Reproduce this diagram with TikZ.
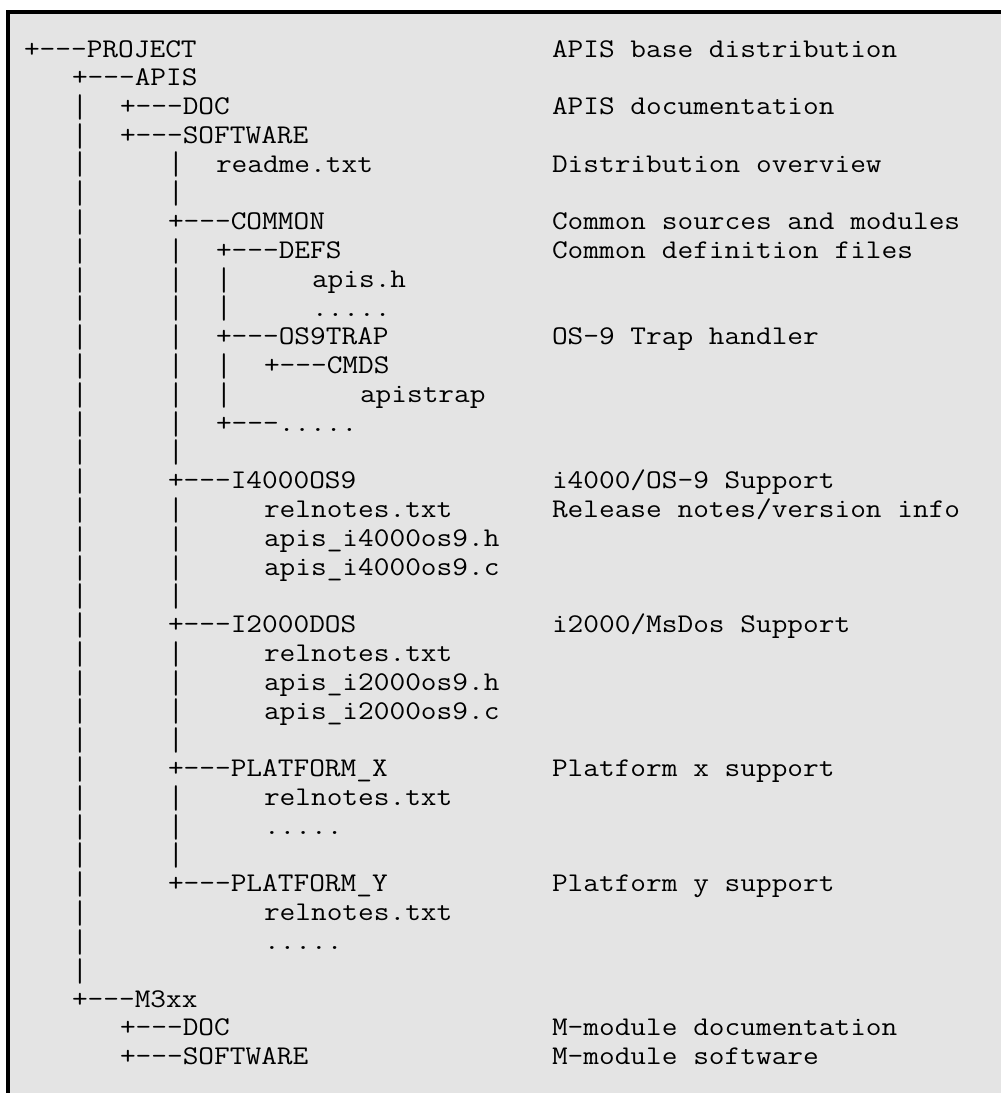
\documentclass[tikz,border=0pt]{standalone}
\usepackage{fontspec}
\usepackage{graphicx}
\definecolor{panel}{HTML}{E4E4E4}
\tikzset{
  txt/.style={anchor=base west, inner sep=0pt, outer sep=0pt,
    font=\ttfamily\fontsize{27}{29}\selectfont, text=black}
}
\newsavebox\pipebox
\newcommand\pipechar{\sbox\pipebox{|}%
  \raisebox{-5.5pt}{\resizebox{1.129\wd\pipebox}{25.5pt}{\raisebox{\dp\pipebox}{\usebox\pipebox}}}}
\newcommand\sx[1]{\scalebox{1.129}[1]{#1}}
\newcommand\tx[4]{\node[txt] (#1) at ({24+16*(#2)},{57+28.79*((#3)-1)}) {\sx{#4}};}
\newcommand\pp[2]{\node[txt] (p#1x#2) at ({24+16*(#2)},{57+28.79*((#1)-1)}) {\pipechar};}
\begin{document}
\begin{tikzpicture}[x=1pt,y=-1pt]
\useasboundingbox (0,0) rectangle (1001,1093);
\fill[white] (0,0) rectangle (1001,1093);
\fill[panel] (10,14) rectangle (1001,1093);
\fill[black] (6,10) rectangle (1001,14);
\fill[black] (6,10) rectangle (10,1093);
% line 1-2
\tx{project}{0}{1}{+---PROJECT}
\tx{dproject}{33}{1}{APIS base distribution}
\tx{apis}{3}{2}{+---APIS}
% 3-4
\pp{3}{3}\tx{doc}{6}{3}{+---DOC}\tx{ddoc}{33}{3}{APIS documentation}
\pp{4}{3}\tx{software}{6}{4}{+---SOFTWARE}
% 5-6
\pp{5}{3}\pp{5}{9}\tx{readme}{12}{5}{readme.txt}\tx{dreadme}{33}{5}{Distribution overview}
\pp{6}{3}\pp{6}{9}
% 7-15
\pp{7}{3}\tx{common}{9}{7}{+---COMMON}\tx{dcommon}{33}{7}{Common sources and modules}
\pp{8}{3}\pp{8}{9}\tx{defs}{12}{8}{+---DEFS}\tx{ddefs}{33}{8}{Common definition files}
\pp{9}{3}\pp{9}{9}\pp{9}{12}\tx{apish}{18}{9}{apis.h}
\pp{10}{3}\pp{10}{9}\pp{10}{12}\tx{defsmore}{18}{10}{.....}
\pp{11}{3}\pp{11}{9}\tx{os9trap}{12}{11}{+---OS9TRAP}\tx{dos9trap}{33}{11}{OS-9 Trap handler}
\pp{12}{3}\pp{12}{9}\pp{12}{12}\tx{cmds}{15}{12}{+---CMDS}
\pp{13}{3}\pp{13}{9}\pp{13}{12}\tx{apistrap}{21}{13}{apistrap}
\pp{14}{3}\pp{14}{9}\tx{commonmore}{12}{14}{+---.....}
\pp{15}{3}\pp{15}{9}
% 16-20
\pp{16}{3}\tx{ifour}{9}{16}{+---I4000OS9}\tx{difour}{33}{16}{i4000/OS-9 Support}
\pp{17}{3}\pp{17}{9}\tx{relfour}{15}{17}{relnotes.txt}\tx{drelfour}{33}{17}{Release notes/version info}
\pp{18}{3}\pp{18}{9}\tx{hfour}{15}{18}{apis\_i4000os9.h}
\pp{19}{3}\pp{19}{9}\tx{cfour}{15}{19}{apis\_i4000os9.c}
\pp{20}{3}\pp{20}{9}
% 21-25
\pp{21}{3}\tx{itwo}{9}{21}{+---I2000DOS}\tx{ditwo}{33}{21}{i2000/MsDos Support}
\pp{22}{3}\pp{22}{9}\tx{reltwo}{15}{22}{relnotes.txt}
\pp{23}{3}\pp{23}{9}\tx{htwo}{15}{23}{apis\_i2000os9.h}
\pp{24}{3}\pp{24}{9}\tx{ctwo}{15}{24}{apis\_i2000os9.c}
\pp{25}{3}\pp{25}{9}
% 26-29
\pp{26}{3}\tx{platx}{9}{26}{+—--PLATFORM\_X}\tx{dplatx}{33}{26}{Platform x support}
\pp{27}{3}\pp{27}{9}\tx{relx}{15}{27}{relnotes.txt}
\pp{28}{3}\pp{28}{9}\tx{morex}{15}{28}{.....}
\pp{29}{3}\pp{29}{9}
% 30-33
\pp{30}{3}\tx{platy}{9}{30}{+—--PLATFORM\_Y}\tx{dplaty}{33}{30}{Platform y support}
\pp{31}{3}\tx{rely}{15}{31}{relnotes.txt}
\pp{32}{3}\tx{morey}{15}{32}{.....}
\pp{33}{3}
% 34-36
\tx{mthree}{3}{34}{+—--M3xx}
\tx{mdoc}{6}{35}{+---DOC}\tx{dmdoc}{33}{35}{M-module documentation}
\tx{msoft}{6}{36}{+---SOFTWARE}\tx{dmsoft}{33}{36}{M-module software}
\end{tikzpicture}
\end{document}
